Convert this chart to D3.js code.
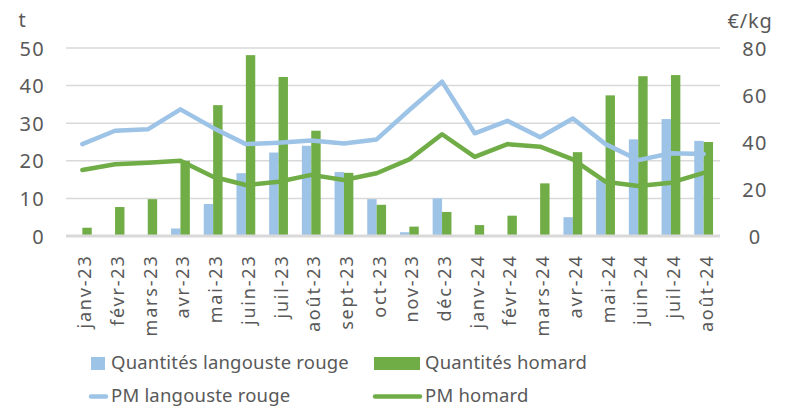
<!DOCTYPE html>
<html lang="fr">
<head>
<meta charset="utf-8">
<title>Langouste rouge et homard</title>
<script src="https://d3js.org/d3.v7.min.js"></script>
<style>
  body { margin: 0; background: #fff; }
  text { font-family: "Noto Sans", "DejaVu Sans", sans-serif; fill: #595959; }
</style>
</head>
<body>
<script>
// mois
var months = ["janv-23","févr-23","mars-23","avr-23","mai-23","juin-23","juil-23","août-23","sept-23","oct-23","nov-23","déc-23",
              "janv-24","févr-24","mars-24","avr-24","mai-24","juin-24","juil-24","août-24"];
// quantités (t)
var qteLangouste = [0,0,0,2,8.5,16.7,22.2,24,17,9.8,1,10,0,0,0,5,15,25.7,31.1,25.3];
var qteHomard = [2.2,7.7,9.8,20,34.8,48.1,42.3,28,16.8,8.3,2.5,6.4,2.9,5.4,14,22.3,37.4,42.5,42.8,25];
// prix moyen (€/kg)
var pmLangouste = [39.1,44.8,45.4,53.9,46,39.1,39.7,40.6,39.4,41.1,53.6,65.7,43.7,49,42,50,39.1,32.3,35.2,34.9];
var pmHomard = [28.1,30.5,31.2,32,25.2,21.7,23.1,26,23.8,26.7,32.6,43.3,33.7,39.1,38,32.6,23.1,21.3,22.7,26.9];

var leftTicks = [0,10,20,30,40,50];
var rightTicks = [0,20,40,60,80];

var W = 785, H = 408;
var blue = "#9DC3E6", green = "#70AD47";
var x0 = 66, x1 = 720, yTop = 48, yBot = 236;

var svg = d3.select("body").append("svg")
    .attr("width", W).attr("height", H);

var x = d3.scaleBand().domain(months).range([x0, x1]);
var yL = d3.scaleLinear().domain([0, 50]).range([yBot, yTop]);
var yR = d3.scaleLinear().domain([0, 80]).range([yBot, yTop]);

// grille
svg.append("g").selectAll("line")
    .data(leftTicks.slice(1))
    .enter().append("line")
    .attr("x1", x0).attr("x2", x1)
    .attr("y1", function(d) { return yL(d); })
    .attr("y2", function(d) { return yL(d); })
    .attr("stroke", "#D9D9D9").attr("stroke-width", 1.5);

// axe gauche
var axL = svg.append("g")
    .attr("transform", "translate(" + 45 + ",0)")
    .call(d3.axisLeft(yL).tickValues(leftTicks).tickSize(0).tickPadding(0));
axL.select(".domain").remove();
axL.selectAll("text").style("font-size", "20px").style("letter-spacing", "1.3px").attr("dy", "0.35em");

// axe droit
var axR = svg.append("g")
    .attr("transform", "translate(" + 755 + ",0)")
    .call(d3.axisRight(yR).tickValues(rightTicks).tickSize(0).tickPadding(0));
axR.select(".domain").remove();
axR.selectAll("text").style("font-size", "20px").style("letter-spacing", "1.3px")
    .attr("dy", "0.35em").attr("text-anchor", "middle");

svg.append("text").attr("x", 22).attr("y", 27).attr("text-anchor", "middle")
    .style("font-size", "20px").text("t");
svg.append("text").attr("x", 750).attr("y", 28).attr("text-anchor", "middle")
    .style("font-size", "20px").style("letter-spacing", "0.8px").text("€/kg");

// barres
var bw = 9.4;
svg.append("g").selectAll("rect")
    .data(qteLangouste)
    .enter().append("rect")
    .attr("x", function(d, i) { return x(months[i]) + x.bandwidth() / 2 - bw; })
    .attr("y", function(d) { return yL(d); })
    .attr("width", bw)
    .attr("height", function(d) { return yBot - yL(d); })
    .attr("fill", blue);

svg.append("g").selectAll("rect")
    .data(qteHomard)
    .enter().append("rect")
    .attr("x", function(d, i) { return x(months[i]) + x.bandwidth() / 2; })
    .attr("y", function(d) { return yL(d); })
    .attr("width", bw)
    .attr("height", function(d) { return yBot - yL(d); })
    .attr("fill", green);

// axe horizontal
svg.append("line")
    .attr("x1", x0).attr("x2", x1)
    .attr("y1", yBot).attr("y2", yBot)
    .attr("stroke", "#D9D9D9").attr("stroke-width", 3);

// courbes
var line = d3.line()
    .x(function(d, i) { return x(months[i]) + x.bandwidth() / 2; })
    .y(function(d) { return yR(d); });

svg.append("path").datum(pmLangouste)
    .attr("d", line).attr("fill", "none")
    .attr("stroke", blue).attr("stroke-width", 4.5)
    .attr("stroke-linejoin", "round").attr("stroke-linecap", "round");
svg.append("path").datum(pmHomard)
    .attr("d", line).attr("fill", "none")
    .attr("stroke", green).attr("stroke-width", 4.5)
    .attr("stroke-linejoin", "round").attr("stroke-linecap", "round");

// libellés des mois
svg.append("g").selectAll("text")
    .data(months)
    .enter().append("text")
    .attr("transform", function(d) {
        return "translate(" + (x(d) + x.bandwidth() / 2 + 9) + "," + 254.5 + ") rotate(-90)";
    })
    .attr("text-anchor", "end")
    .style("font-size", "18px")
    .style("letter-spacing", "1.8px")
    .text(function(d) { return d; });

// légende
var leg = svg.append("g").style("font-size", "18.5px").style("letter-spacing", "0.2px");
leg.append("rect").attr("x", 91).attr("y", 357).attr("width", 14).attr("height", 13).attr("fill", blue);
leg.append("text").attr("x", 111).attr("y", 369).text("Quantités langouste rouge");
leg.append("rect").attr("x", 374).attr("y", 357).attr("width", 46).attr("height", 13).attr("fill", green);
leg.append("text").attr("x", 425).attr("y", 369).text("Quantités homard");
leg.append("line").attr("x1", 91).attr("x2", 106).attr("y1", 396.5).attr("y2", 396.5)
    .attr("stroke", blue).attr("stroke-width", 4.5).attr("stroke-linecap", "round");
leg.append("text").attr("x", 111).attr("y", 402).text("PM langouste rouge");
leg.append("line").attr("x1", 375).attr("x2", 420).attr("y1", 396.5).attr("y2", 396.5)
    .attr("stroke", green).attr("stroke-width", 4.5).attr("stroke-linecap", "round");
leg.append("text").attr("x", 425).attr("y", 402).text("PM homard");
</script>
</body>
</html>
